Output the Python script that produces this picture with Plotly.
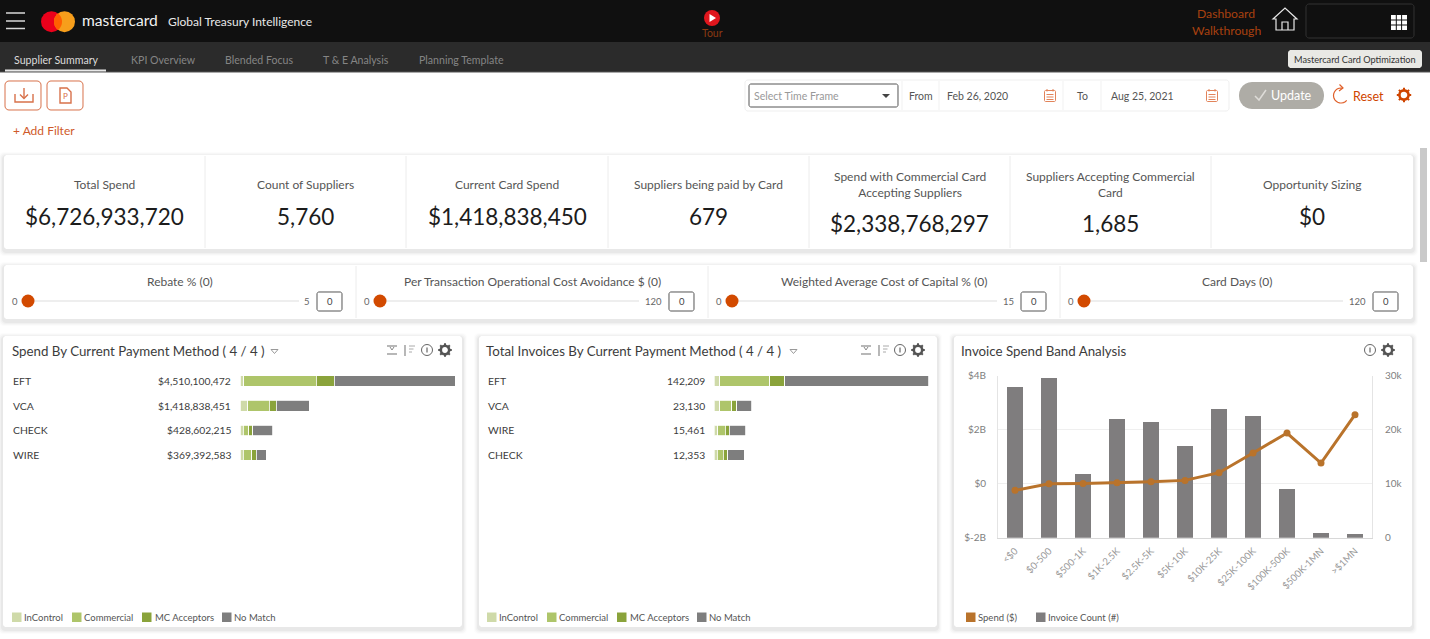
import math
import plotly.graph_objects as go

W = 1430
H = 639
FONT = "Lato"

# spend by payment method, dollars
spend_labels = ["$4,510,100,472", "$1,418,838,451", "$428,602,215", "$369,392,583"]
spend_methods = ["EFT", "VCA", "CHECK", "WIRE"]
spend_incontrol = [78e6, 162e6, 69e6, 69e6]
spend_commercial = [1517e6, 447e6, 111e6, 174e6]
spend_acceptors = [378e6, 147e6, 90e6, 99e6]
spend_nomatch = [2537e6, 699e6, 413e6, 210e6]

# invoices by payment method
inv_labels = ["142,209", "23,130", "15,461", "12,353"]
inv_methods = ["EFT", "VCA", "WIRE", "CHECK"]
inv_incontrol = [3770, 3770, 2450, 1980]
inv_commercial = [33070, 7940, 4830, 3970]
inv_acceptors = [9720, 3110, 2650, 3110]
inv_nomatch = [95649, 10120, 10780, 10780]

# spend band analysis
bands = ["<$0", "$0-500", "$500-1K", "$1K-2.5K", "$2.5K-5K", "$5K-10K", "$10K-25K",
         "$25K-100K", "$100K-500K", "$500K-1MN", ">$1MN"]
band_counts = [27950, 29500, 11790, 21900, 21480, 16900, 23880, 22460, 9070, 925, 680]
band_spend = [-0.247e9, 0, 0.012e9, 0.037e9, 0.074e9, 0.123e9, 0.407e9, 1.136e9, 1.877e9, 0.765e9, 2.556e9]
spend_ticks = [-2e9, 0, 2e9, 4e9]
spend_ticktext = ["$-2B", "$0", "$2B", "$4B"]
count_ticks = [0, 10000, 20000, 30000]
count_ticktext = ["0", "10k", "20k", "30k"]

# kpi row
kpi_titles = ["Total Spend", "Count of Suppliers", "Current Card Spend", "Suppliers being paid by Card",
              "Spend with Commercial Card<br>Accepting Suppliers", "Suppliers Accepting Commercial<br>Card",
              "Opportunity Sizing"]
kpi_values = ["$6,726,933,720", "5,760", "$1,418,838,450", "679", "$2,338,768,297", "1,685", "$0"]

slider_titles = ["Rebate % (0)", "Per Transaction Operational Cost Avoidance $ (0)",
                 "Weighted Average Cost of Capital % (0)", "Card Days (0)"]
slider_max = ["5", "120", "15", "120"]

tabs = ["Supplier Summary", "KPI Overview", "Blended Focus", "T & E Analysis", "Planning Template"]

segment_names = ["InControl", "Commercial", "MC Acceptors", "No Match"]
segment_colors = ["#cfdaa9", "#aec56a", "#8aa33b", "#7e7e7e"]
ORANGE = "#cf4500"
LINE_COL = "#b9732b"
BAR_COL = "#7f7d7e"
TEXT = "#3c3c3c"

shapes = []
notes = []


def px(x):
    return x / W


def py(y):
    return 1 - y / H


def rect(x0, y0, x1, y1, fill="white", line=None, lw=1, op=1):
    shapes.append(dict(type="rect", xref="paper", yref="paper", x0=px(x0), x1=px(x1), y0=py(y0), y1=py(y1),
                       fillcolor=fill, line=dict(color=line or "rgba(0,0,0,0)", width=lw if line else 0),
                       opacity=op, layer="below"))


def seg(x0, y0, x1, y1, color, lw=1):
    shapes.append(dict(type="line", xref="paper", yref="paper", x0=px(x0), x1=px(x1), y0=py(y0), y1=py(y1),
                       line=dict(color=color, width=lw), layer="below"))


def circle(cx, cy, r, fill="rgba(0,0,0,0)", line=None, lw=1):
    shapes.append(dict(type="circle", xref="paper", yref="paper", x0=px(cx - r), x1=px(cx + r),
                       y0=py(cy + r), y1=py(cy - r), fillcolor=fill,
                       line=dict(color=line or "rgba(0,0,0,0)", width=lw if line else 0), layer="below"))


def path(points, fill="rgba(0,0,0,0)", line=None, lw=1, close=False):
    d = "M" + " L".join(f"{px(a):.5f},{py(b):.5f}" for a, b in points) + (" Z" if close else "")
    shapes.append(dict(type="path", xref="paper", yref="paper", path=d, fillcolor=fill,
                       line=dict(color=line or "rgba(0,0,0,0)", width=lw if line else 0), layer="below"))


def round_rect(x0, y0, x1, y1, r, fill="white", line=None, lw=1):
    pts = []
    for cx, cy, a0 in [(x1 - r, y0 + r, -90), (x1 - r, y1 - r, 0), (x0 + r, y1 - r, 90), (x0 + r, y0 + r, 180)]:
        for k in range(7):
            a = math.radians(a0 + k * 15)
            pts.append((cx + r * math.cos(a), cy + r * math.sin(a)))
    path(pts, fill, line, lw, close=True)


def label(x, y, text, size=11, color=TEXT, anchor="center", font=FONT):
    notes.append(dict(xref="paper", yref="paper", x=px(x), y=py(y), text=text, showarrow=False,
                      xanchor=anchor, yanchor="middle", align="center", borderpad=0,
                      font=dict(family=font, size=size, color=color)))


def card(x0, y0, x1, y1):
    for i, alpha in enumerate([0.012, 0.018, 0.025, 0.035]):
        g = 5 - i
        round_rect(x0 - g, y0 - g + 2, x1 + g, y1 + g + 2, 4, fill=f"rgba(0,0,0,{alpha})")
    round_rect(x0, y0, x1, y1, 3)


def gear(cx, cy, color, r=4.2):
    circle(cx, cy, r, line=color, lw=2.6)
    for k in range(8):
        a = math.radians(k * 45)
        seg(cx + (r + 0.5) * math.cos(a), cy + (r + 0.5) * math.sin(a),
            cx + (r + 2.6) * math.cos(a), cy + (r + 2.6) * math.sin(a), color, 2)


def info(cx, cy):
    circle(cx, cy, 5.5, line="#666", lw=1)
    seg(cx, cy - 2.5, cx, cy + 2.5, "#666", 1.2)


def calendar(cx, cy):
    round_rect(cx - 5.5, cy - 5, cx + 5.5, cy + 6, 1, fill="white", line="#e2835a", lw=1)
    for dy in (-1, 1.5, 4):
        seg(cx - 3.5, cy + dy, cx + 3.5, cy + dy, "#e2835a", 1)
    seg(cx - 3, cy - 6.5, cx - 3, cy - 4, "#e2835a", 1)
    seg(cx + 3, cy - 6.5, cx + 3, cy - 4, "#e2835a", 1)


def swatches(items, y):
    for x, name, color, text_x in items:
        rect(x, y - 5, x + 9.5, y + 4.5, fill=color)
        label(text_x, y, name, size=9.5, color="#555", anchor="left")


def arc_points(cx, cy, r, a0, a1, step=15):
    n = int(abs(a1 - a0) / step)
    return [(cx + r * math.cos(math.radians(a0 + (a1 - a0) * k / n)),
             cy + r * math.sin(math.radians(a0 + (a1 - a0) * k / n))) for k in range(n + 1)]


# page chrome
rect(0, 0, W, H, fill="white")
rect(0, 0, W, 42, fill="#101010")
rect(0, 42, W, 72, fill="#2b2b2b")
seg(0, 72, W, 72, "#555", 1)
for y in (13, 21, 28.5):
    seg(6, y, 25, y, "#d8d8d8", 1.5)

# logo
circle(51.5, 21.7, 10.5, fill="#eb001b")
circle(64.5, 21.7, 10.5, fill="#f79e1b")
half = math.degrees(math.acos(6.5 / 10.5))
lens = arc_points(51.5, 21.7, 10.5, -half, half, 5) + arc_points(64.5, 21.7, 10.5, 180 - half, 180 + half, 5)
path(lens, fill="#ff5f00", close=True)
label(81, 20, "mastercard", size=15.6, color="#f2f2f2", anchor="left")
label(167, 21.5, "Global Treasury Intelligence", size=12, color="#e8e8e8", anchor="left")

tab_x = [13, 130, 224, 322, 418]
for i, (x, t) in enumerate(zip(tab_x, tabs)):
    label(x, 59.5, t, size=10.6, color="#dcdcdc" if i == 0 else "#858585", anchor="left")
seg(5, 70.5, 106, 70.5, "#e8e8e8", 2)

# tour + top right
circle(712, 18, 8, fill="#e0161d")
path([(709.5, 14), (716, 18), (709.5, 22)], fill="white", close=True)
label(712, 33.5, "Tour", size=10.5, color="#8a3a12")
label(1226, 13.5, "Dashboard", size=12.2, color="#a8410f")
label(1226, 30, "Walkthrough", size=12.2, color="#a8410f")
path([(1273, 19), (1285, 8), (1297, 19), (1294, 19), (1294, 30), (1276, 30), (1276, 19)], line="#e8e8e8", lw=1.2, close=True)
path([(1282, 30), (1282, 22), (1288, 22), (1288, 30)], line="#e8e8e8", lw=1.2)
round_rect(1306, 4, 1414, 38, 3, fill="#101010", line="#333", lw=1)
rect(1391, 15, 1407, 30, fill="white")
for x in (1396.3, 1401.6):
    seg(x, 15, x, 30, "#101010", 1)
for y in (20, 25):
    seg(1391, y, 1407, y, "#101010", 1)
round_rect(1288, 50, 1422, 68, 3, fill="#e9e9e5")
label(1355, 59, "Mastercard Card Optimization", size=9.2, color="#333")

# action row
for x0 in (5, 47):
    round_rect(x0, 81, x0 + 36, 110, 4, line="#d8714a", lw=1)
path([(15, 94), (15, 102), (33, 102), (33, 94)], line="#d8714a", lw=1.4)
seg(24, 88, 24, 98, "#d8714a", 1.4)
path([(20, 94.5), (24, 98.5), (28, 94.5)], line="#d8714a", lw=1.4)
path([(60, 88), (67, 88), (71, 92), (71, 103), (60, 103)], line="#d8714a", lw=1.4, close=True)
label(65.5, 96.5, "P", size=8, color="#d8714a")
label(12, 130.5, "+ Add Filter", size=12, color="#cf5a2a", anchor="left")

round_rect(745, 80, 1229, 111, 3, line="#efefef", lw=1)
round_rect(749, 84, 898, 107, 2, line="#555", lw=1)
label(753, 95.5, "Select Time Frame", size=10.5, color="#999", anchor="left")
path([(882, 94), (890, 94), (886, 98)], fill="#444", close=True)
for x in (902, 939, 1063, 1101):
    seg(x, 81, x, 110, "#f1f1f1", 1)
label(921, 96, "From", size=10.5, color="#555")
label(946, 96, "Feb 26, 2020", size=10.5, color="#555", anchor="left")
calendar(1050, 95.5)
label(1082, 96, "To", size=10.5, color="#555")
label(1110, 96, "Aug 25, 2021", size=10.5, color="#555", anchor="left")
calendar(1212, 95.5)
round_rect(1239, 82, 1324, 109, 13, fill="#aeaca6")
path([(1255, 96), (1259, 100), (1266, 90)], line="#dedcd8", lw=1.5)
label(1291, 95.5, "Update", size=12.5, color="white")
path(arc_points(1341, 95.5, 7.5, 40, 285), line="#e0602a", lw=1.2)
path([(1339.5, 84.5), (1343, 88), (1339, 91)], line="#e0602a", lw=1.2)
label(1368, 97, "Reset", size=12.5, color=ORANGE)
gear(1404, 95, ORANGE, r=4.6)

# scrollbar
rect(1420, 148, 1427, 262, fill="#c9c9c9")

# kpi card
card(4, 155, 1413, 249)
kpi_edges = [4, 205, 406, 608, 809, 1010, 1211, 1413]
for i in range(7):
    if i > 0:
        seg(kpi_edges[i], 156, kpi_edges[i], 248, "#ececec", 1)
    cx = (kpi_edges[i] + kpi_edges[i + 1]) / 2
    two_line = "<br>" in kpi_titles[i]
    label(cx, 184.5, kpi_titles[i], size=12, color="#555")
    label(cx, 224 if two_line else 216, kpi_values[i], size=22.5, color="#1c1c1c")

# sliders
card(4, 265, 1413, 319)
slider_edges = [4, 356, 708, 1060, 1413]
for i in range(4):
    x0 = slider_edges[i]
    if i > 0:
        seg(x0, 266, x0, 318, "#ececec", 1)
    label((x0 + slider_edges[i + 1]) / 2, 282, slider_titles[i], size=12, color="#555")
    label(x0 + 11, 302, "0", size=9.5, color="#666")
    box_x = [317, 669, 1021, 1373][i]
    seg(x0 + 28, 301, box_x - 12 - 6 * len(slider_max[i]), 301, "#dddddd", 1)
    circle(x0 + 24, 301, 6.5, fill="#d24a00")
    label(box_x - 6, 302, slider_max[i], size=9.5, color="#666", anchor="right")
    round_rect(box_x, 292, box_x + 25, 311, 2, line="#555", lw=1)
    label(box_x + 12.5, 302, "0", size=9.5, color="#444")

# chart cards
card(3, 336, 462, 627)
card(479, 336, 937, 627)
card(954, 336, 1412, 627)

label(11, 351, "Spend By Current Payment Method ( 4 / 4 )", size=13.3, color=TEXT, anchor="left")
label(485, 351, "Total Invoices By Current Payment Method ( 4 / 4 )", size=13.3, color=TEXT, anchor="left")
label(960, 351, "Invoice Spend Band Analysis", size=13.3, color=TEXT, anchor="left")
path([(271, 349.5), (278, 349.5), (274.5, 353.5)], line="#999", close=True)
path([(790, 349.5), (797, 349.5), (793.5, 353.5)], line="#999", close=True)

for off in (0, 474):
    x = 392 + off
    path([(x - 5, 346), (x + 5, 346)], line="#888", lw=1.2)
    path([(x - 5, 354), (x + 5, 354)], line="#888", lw=1.2)
    path([(x - 2, 347), (x, 350), (x + 2, 347)], line="#888", lw=1)
    x = 409 + off
    seg(x - 4, 345, x - 4, 356, "#888", 1.2)
    for k, ln in enumerate((6, 4.5, 3)):
        seg(x, 346 + k * 3, x + ln, 346 + k * 3, "#aaa", 1)
    info(427 + off - (1 if off else 0), 350)
    gear(445 + off - (1 if off else 0), 350, "#555")
info(1370, 350)
gear(1388, 350, "#555")

for off in (0, 475):
    swatches([(12 + off, segment_names[0], segment_colors[0], 23 + off),
              (72 + off, segment_names[1], segment_colors[1], 83 + off),
              (142 + off, segment_names[2], segment_colors[2], 153.5 + off),
              (222 + off, segment_names[3], segment_colors[3], 233 + off)], 617.5)
swatches([(966, "Spend ($)", LINE_COL, 977), (1036, "Invoice Count (#)", BAR_COL, 1047)], 617.5)

fig = go.Figure()

spend_series = [spend_incontrol, spend_commercial, spend_acceptors, spend_nomatch]
inv_series = [inv_incontrol, inv_commercial, inv_acceptors, inv_nomatch]
BAR_W = 0.43
for name, color, vals in zip(segment_names, segment_colors, spend_series):
    fig.add_trace(go.Bar(x=vals, y=spend_methods, orientation="h", name=name, width=BAR_W,
                         marker=dict(color=color, line=dict(color="white", width=0.8)), xaxis="x", yaxis="y"))
for name, color, vals in zip(segment_names, segment_colors, inv_series):
    fig.add_trace(go.Bar(x=vals, y=inv_methods, orientation="h", name=name, width=BAR_W,
                         marker=dict(color=color, line=dict(color="white", width=0.8)), xaxis="x2", yaxis="y2"))

# row labels hang off the hidden category axes
for method, amount in zip(spend_methods, spend_labels):
    notes.append(dict(xref="paper", yref="y", x=px(12), y=method, text=method, showarrow=False, xanchor="left",
                      borderpad=0, font=dict(family=FONT, size=10.4, color=TEXT)))
    notes.append(dict(xref="paper", yref="y", x=px(232), y=method, text=amount, showarrow=False, xanchor="right",
                      borderpad=0, font=dict(family=FONT, size=10.3, color=TEXT)))
for method, amount in zip(inv_methods, inv_labels):
    notes.append(dict(xref="paper", yref="y2", x=px(487), y=method, text=method, showarrow=False, xanchor="left",
                      borderpad=0, font=dict(family=FONT, size=10.4, color=TEXT)))
    notes.append(dict(xref="paper", yref="y2", x=px(706), y=method, text=amount, showarrow=False, xanchor="right",
                      borderpad=0, font=dict(family=FONT, size=10.3, color=TEXT)))

fig.add_trace(go.Bar(x=bands, y=band_counts, name="Invoice Count (#)", width=0.47,
                     marker=dict(color=BAR_COL, line=dict(width=0)), xaxis="x3", yaxis="y3"))
fig.add_trace(go.Scatter(x=bands, y=band_spend, name="Spend ($)", mode="lines+markers",
                         line=dict(color=LINE_COL, width=3), marker=dict(color=LINE_COL, size=7),
                         xaxis="x3", yaxis="y4"))

row_top, row_bottom = 368.7, 467.4
hidden = dict(showgrid=False, zeroline=False, showticklabels=False, showline=False, ticks="")
fig.update_layout(
    width=W, height=H, margin=dict(l=0, r=0, t=0, b=0, autoexpand=False), autosize=False,
    paper_bgcolor="white", plot_bgcolor="rgba(0,0,0,0)", showlegend=False,
    barmode="stack", hovermode=False,
    font=dict(family=FONT, size=11, color=TEXT),
    xaxis=dict(domain=[px(240), px(455)], range=[0, 4510100472], anchor="y", **hidden),
    yaxis=dict(domain=[py(row_bottom), py(row_top)], categoryorder="array", categoryarray=spend_methods,
               autorange="reversed", anchor="x", **hidden),
    xaxis2=dict(domain=[px(714.3), px(929)], range=[0, 142209], anchor="y2", **hidden),
    yaxis2=dict(domain=[py(row_bottom), py(row_top)], categoryorder="array", categoryarray=inv_methods,
                autorange="reversed", anchor="x2", **hidden),
    xaxis3=dict(domain=[px(998), px(1372)], anchor="y3", tickangle=-45, categoryorder="array", categoryarray=bands,
                range=[-0.5, 10.5], showgrid=False, zeroline=False, showline=True, linecolor="#d8d8d8",
                ticks="", ticklabelstandoff=3, tickfont=dict(family=FONT, size=9.6, color="#999999")),
    yaxis3=dict(domain=[py(537.7), py(375.7)], anchor="x3", side="right", range=[0, 30000], tickvals=count_ticks,
                ticktext=count_ticktext, showgrid=True, gridcolor="#efefef", zeroline=False, showline=True,
                linecolor="#e4e4e4", ticks="", ticklabelstandoff=10, tickfont=dict(family=FONT, size=10, color="#808080")),
    yaxis4=dict(overlaying="y3", anchor="x3", side="left", range=[-2e9, 4e9], tickvals=spend_ticks,
                ticktext=spend_ticktext, showgrid=False, zeroline=False, showline=True, linecolor="#e4e4e4",
                ticks="", ticklabelstandoff=9, tickfont=dict(family=FONT, size=10, color="#808080")),
    shapes=shapes, annotations=notes,
)

fig.write_html("out.html", config={"displayModeBar": False},
               post_script="document.body.style.margin='0';document.body.style.overflow='hidden';")
